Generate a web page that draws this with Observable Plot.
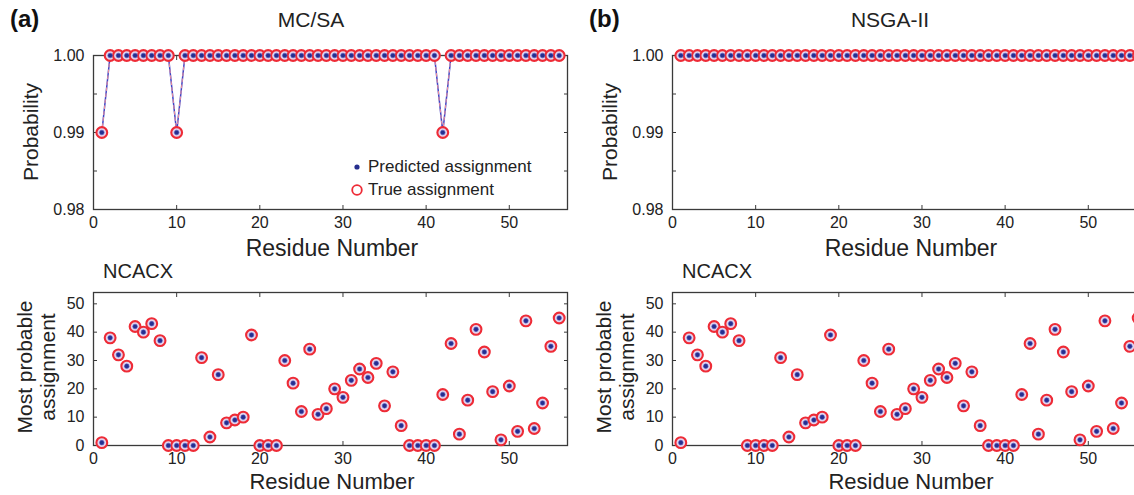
<!DOCTYPE html>
<html><head><meta charset="utf-8">
<script src="https://cdn.jsdelivr.net/npm/d3@7"></script>
<script src="https://cdn.jsdelivr.net/npm/@observablehq/plot@0.6"></script>
<style>
body{margin:0;background:#fff;overflow:hidden;font-family:"Liberation Sans",Arial,Helvetica,sans-serif;color:#222;}
#root{position:relative;width:1134px;height:495px;overflow:hidden;background:#fff;}
.abs{position:absolute;white-space:nowrap;line-height:1;}
.rot{transform:translate(-50%,-50%) rotate(-90deg);}
.ctr{transform:translate(-50%,-50%);}
.lft{transform:translate(0,-50%);}
</style></head><body><div id="root"></div>
<script>
// ---- data ----
const residue = d3.range(1, 57);
const probMCSA = [0.99,1,1,1,1,1,1,1,1,0.99,
  1,1,1,1,1,1,1,1,1,1,
  1,1,1,1,1,1,1,1,1,1,
  1,1,1,1,1,1,1,1,1,1,
  1,0.99,1,1,1,1,1,1,1,1,
  1,1,1,1,1,1];
const probNSGA = [1,1,1,1,1,1,1,1,1,1,
  1,1,1,1,1,1,1,1,1,1,
  1,1,1,1,1,1,1,1,1,1,
  1,1,1,1,1,1,1,1,1,1,
  1,1,1,1,1,1,1,1,1,1,
  1,1,1,1,1,1];
const assignMCSA = [1,38,32,28,42,40,43,37,0,0,
  0,0,31,3,25,8,9,10,39,0,
  0,0,30,22,12,34,11,13,20,17,
  23,27,24,29,14,26,7,0,0,0,
  0,18,36,4,16,41,33,19,2,21,
  5,44,6,15,35,45];
const assignNSGA = [1,38,32,28,42,40,43,37,0,0,
  0,0,31,3,25,8,9,10,39,0,
  0,0,30,22,12,34,11,13,20,17,
  23,27,24,29,14,26,7,0,0,0,
  0,18,36,4,16,41,33,19,2,21,
  5,44,6,15,35,45];
const xTicks = [0,10,20,30,40,50];
const probTicks = [0.98,0.99,1.00];
const probMinor = [0.985,0.99,0.995];
const assignTicks = [0,10,20,30,40,50];

const RED = "#ee2b36", BLUE = "#262e8e", FRAME = "#3a3a3a";
const blank = () => "";

function panel({pred, truth, yDomain, yLabels, yMinor, yFormat, showLine, height, mt, mb}) {
  const data = residue.map((r, i) => ({r, p: pred[i], t: truth[i]}));
  const marks = [
    Plot.frame({stroke: FRAME, strokeWidth: 1.3}),
    Plot.axisX({anchor: "bottom", ticks: xTicks, tickSize: 0, tickPadding: 7, label: null, fontSize: 16, fill: "#222"}),
    Plot.axisX({anchor: "bottom", ticks: xTicks.slice(1), tickSize: -4, tickFormat: blank, label: null, stroke: FRAME}),
    Plot.axisX({anchor: "top", ticks: xTicks.slice(1), tickSize: -4, tickFormat: blank, label: null, stroke: FRAME}),
    Plot.axisY({anchor: "left", ticks: yLabels, tickSize: 0, tickPadding: 9, tickFormat: yFormat, label: null, fontSize: 16, fill: "#222"}),
    Plot.axisY({anchor: "left", ticks: yMinor, tickSize: -4, tickFormat: blank, label: null, stroke: FRAME}),
    Plot.axisY({anchor: "right", ticks: yMinor, tickSize: -4, tickFormat: blank, label: null, stroke: FRAME})
  ];
  if (showLine) {
    marks.push(Plot.line(data, {x: "r", y: "p", stroke: "#3c46c8", strokeWidth: 1.5}));
    marks.push(Plot.line(data, {x: "r", y: "t", stroke: "#f2909c", strokeWidth: 1, strokeDasharray: "3,3"}));
  }
  marks.push(Plot.dot(data, {x: "r", y: "t", r: 5.4, stroke: RED, strokeWidth: 2.1, fill: "#e2d3ec"}));
  marks.push(Plot.dot(data, {x: "r", y: "p", r: 2.3, fill: BLUE, stroke: "#4a55c0", strokeWidth: 0.6}));
  return Plot.plot({
    width: 580, height,
    marginLeft: 93, marginRight: 13, marginTop: mt, marginBottom: mb,
    x: {domain: [0, 57]},
    y: {domain: yDomain},
    style: {fontFamily: "'Liberation Sans', Arial, sans-serif", fontSize: "16px", background: "transparent", maxWidth: "none", overflow: "visible"},
    marks
  });
}

const root = document.getElementById("root");
function place(el, left, top) {
  const d = document.createElement("div");
  d.className = "abs";
  d.style.left = left + "px"; d.style.top = top + "px";
  d.appendChild(el);
  root.appendChild(d);
}
function text(str, x, y, cls, css) {
  const d = document.createElement("div");
  d.className = "abs " + cls;
  d.textContent = str;
  d.style.left = x + "px"; d.style.top = y + "px";
  Object.assign(d.style, css || {});
  root.appendChild(d);
  return d;
}

const fmt2 = d3.format(".2f");
const OFF = 579;
place(panel({pred: probMCSA, truth: probMCSA, yDomain: [0.98, 1.0], yLabels: probTicks, yMinor: probMinor, yFormat: fmt2, showLine: true, height: 260, mt: 55, mb: 51}), 0, 0);
place(panel({pred: probNSGA, truth: probNSGA, yDomain: [0.98, 1.0], yLabels: probTicks, yMinor: probMinor, yFormat: fmt2, showLine: true, height: 260, mt: 55, mb: 51}), OFF, 0);
place(panel({pred: assignMCSA, truth: assignMCSA, yDomain: [0, 54], yLabels: assignTicks, yMinor: assignTicks.slice(1), yFormat: d3.format("d"), showLine: false, height: 235, mt: 32, mb: 50}), 0, 260);
place(panel({pred: assignNSGA, truth: assignNSGA, yDomain: [0, 54], yLabels: assignTicks, yMinor: assignTicks.slice(1), yFormat: d3.format("d"), showLine: false, height: 235, mt: 32, mb: 50}), OFF, 260);

// ---- texts ----
for (const [off, lab, title] of [[0, "(a)", "MC/SA"], [OFF, "(b)", "NSGA-II"]]) {
  text(lab, 10 + off, 19, "lft", {fontWeight: "bold", fontSize: "24px", color: "#111"});
  text(title, 311 + off, 19, "ctr", {fontSize: "21px"});
  text("Probability", 30 + off, 132, "rot", {fontSize: "21px"});
  text("Residue Number", 332 + off, 248, "ctr", {fontSize: "23px"});
  text("NCACX", 103 + off, 271, "lft", {fontSize: "20px"});
  text("Most probable", 24 + off, 367, "rot", {fontSize: "21px"});
  text("assignment", 47 + off, 367, "rot", {fontSize: "21px"});
  text("Residue Number", 332 + off, 482, "ctr", {fontSize: "22px"});
}

// ---- legend (panel a, top) ----
const legend = document.createElement("div");
legend.className = "abs";
legend.style.left = "348px"; legend.style.top = "155px";
legend.innerHTML =
  '<div style="display:flex;align-items:center;height:23px"><svg width="18" height="18"><circle cx="9" cy="9" r="2.6" fill="' + BLUE + '"/></svg><span style="font-size:17px;margin-left:2px">Predicted assignment</span></div>' +
  '<div style="display:flex;align-items:center;height:23px"><svg width="18" height="18"><circle cx="9" cy="9" r="4.8" fill="none" stroke="' + RED + '" stroke-width="1.8"/></svg><span style="font-size:17px;margin-left:2px">True assignment</span></div>';
root.appendChild(legend);
</script></body></html>
